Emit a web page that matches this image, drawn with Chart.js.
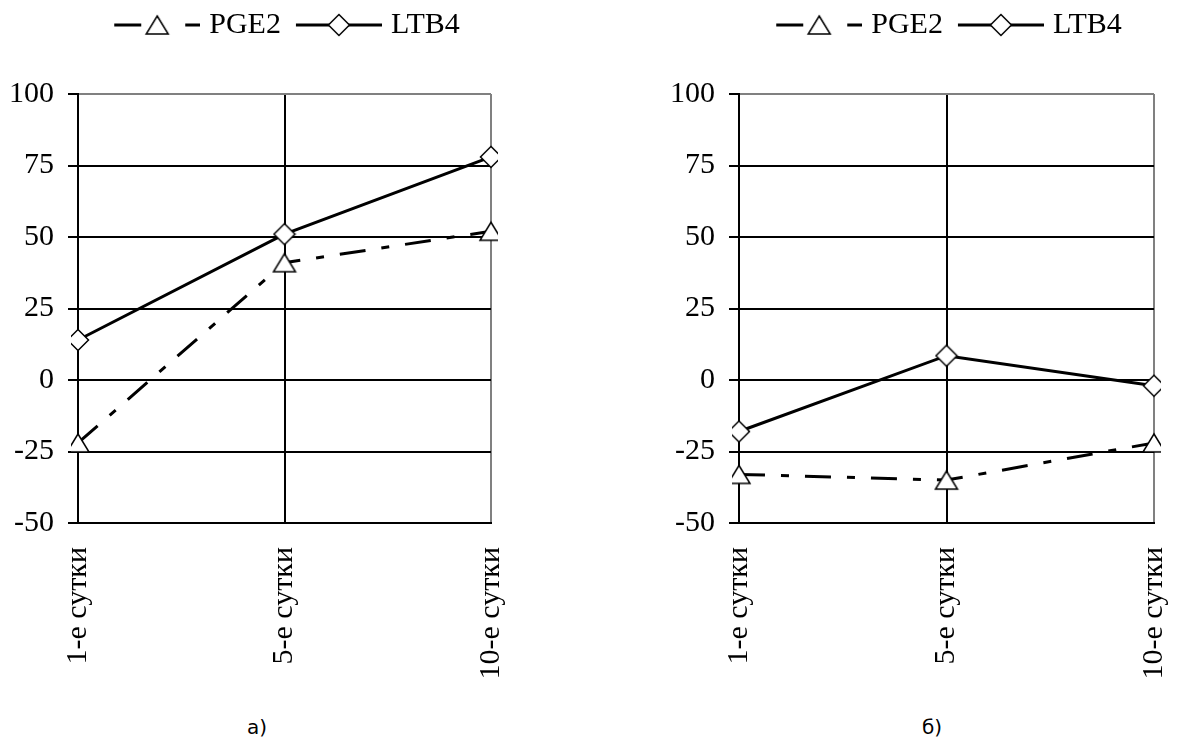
<!DOCTYPE html>
<html>
<head>
<meta charset="utf-8">
<script src="https://cdn.jsdelivr.net/npm/chart.js@4/dist/chart.umd.min.js"></script>
<style>
  body { margin: 0; width: 1178px; height: 740px; background: #fff; overflow: hidden; position: relative; }
  .box { position: absolute; top: 0; height: 700px; }
  .cap { position: absolute; top: 715px; font: 20px "DejaVu Sans", sans-serif; color: #000; }
</style>
</head>
<body>
<div class="box" style="left:0;width:589px"><canvas id="chartA"></canvas></div>
<!-- wider than the window on purpose: the last rotated label reserves space on the right -->
<div class="box" style="left:589px;width:625px"><canvas id="chartB"></canvas></div>
<div class="cap" style="left:247px">а)</div>
<div class="cap" style="left:922px">б)</div>
<script>
// categories and series
const days = ['1-е сутки', '5-е сутки', '10-е сутки'];
const seriesNames = ['PGE2', 'LTB4'];
// chart a)
const pge2A = [-22, 41, 52];
const ltb4A = [14, 51, 78];
// chart b)
const pge2B = [-33, -35, -22];
const ltb4B = [-18, 8.5, -2];
// value axis
const yMin = -50;
const yMax = 100;
const yStep = 25;

const FONT = 'Liberation Serif';
const DASH_DOT = [26, 16, 8, 16];

// markers drawn like Excel: centred on their bounding box
function triangleMarker() {
    const c = document.createElement('canvas');
    c.width = 26; c.height = 22;
    const g = c.getContext('2d');
    g.beginPath();
    g.moveTo(13, 2); g.lineTo(24, 20); g.lineTo(2, 20); g.closePath();
    g.fillStyle = '#fff'; g.fill();
    g.lineWidth = 1.5; g.strokeStyle = '#000'; g.stroke();
    return c;
}
function diamondMarker() {
    const c = document.createElement('canvas');
    c.width = 24; c.height = 24;
    const g = c.getContext('2d');
    g.beginPath();
    g.moveTo(12, 1.5); g.lineTo(22.5, 12); g.lineTo(12, 22.5); g.lineTo(1.5, 12); g.closePath();
    g.fillStyle = '#fff'; g.fill();
    g.lineWidth = 1.5; g.strokeStyle = '#000'; g.stroke();
    return c;
}
const tri = triangleMarker();
const dia = diamondMarker();

// legend sample: line + marker, shifted right inside a wider image
function legendIcon(marker, dashed) {
    const c = document.createElement('canvas');
    c.width = 97; c.height = 30;
    const g = c.getContext('2d');
    g.lineWidth = 3; g.strokeStyle = '#000';
    g.beginPath();
    if (dashed) {
        g.moveTo(11, 15); g.lineTo(38, 15);
        g.moveTo(82, 15); g.lineTo(97, 15);
    } else {
        g.moveTo(11, 15); g.lineTo(97, 15);
    }
    g.stroke();
    g.drawImage(marker, 54 - marker.width / 2, 15 - marker.height / 2);
    return c;
}
const icons = [legendIcon(tri, true), legendIcon(dia, false)];

function gridColor(isEdge) {
    return isEdge ? '#808080' : '#000';
}

Chart.defaults.font.family = FONT;

function makeChart(id, pge2, ltb4, axisWidth, padRight) {
    return new Chart(document.getElementById(id), {
        type: 'line',
        data: {
            labels: days,
            datasets: [{
                label: seriesNames[0],
                data: pge2,
                borderColor: '#000',
                borderWidth: 3,
                borderDash: DASH_DOT,
                pointStyle: tri,
                tension: 0
            }, {
                label: seriesNames[1],
                data: ltb4,
                borderColor: '#000',
                borderWidth: 3,
                pointStyle: dia,
                tension: 0
            }]
        },
        options: {
            responsive: true,
            maintainAspectRatio: false,
            animation: false,
            layout: { padding: { top: 0, right: padRight, left: 0, bottom: 0 } },
            plugins: {
                tooltip: { enabled: false },
                legend: {
                    position: 'top',
                    fullSize: false,   // centre it over the plot area
                    weight: 3000,
                    labels: {
                        usePointStyle: true,
                        pointStyleWidth: 85,
                        padding: 10,
                        color: '#000',
                        font: { family: FONT, size: 30 },
                        generateLabels: chart => chart.data.datasets.map((d, i) => ({
                            text: d.label,
                            pointStyle: icons[i],
                            datasetIndex: i,
                            lineWidth: 0,
                            fontColor: '#000'
                        }))
                    }
                },
                // empty spacer under the legend
                subtitle: {
                    display: true,
                    text: '',
                    font: { size: 10 },
                    padding: { top: 0, bottom: 32 }
                }
            },
            scales: {
                x: {
                    grid: {
                        color: c => gridColor(c.index === days.length - 1),
                        lineWidth: 2,
                        drawTicks: false
                    },
                    border: { color: '#000', width: 2 },
                    ticks: {
                        minRotation: 90,
                        maxRotation: 90,
                        padding: 24,
                        color: '#000',
                        font: { family: FONT, size: 30 }
                    },
                    afterFit: s => { s.height = 177; }
                },
                y: {
                    min: yMin,
                    max: yMax,
                    grid: {
                        color: c => gridColor(c.tick && c.tick.value === yMax),
                        lineWidth: 2,
                        tickLength: 10,
                        tickColor: '#000'
                    },
                    border: { color: '#000', width: 2 },
                    ticks: {
                        stepSize: yStep,
                        padding: 14,
                        color: '#000',
                        font: { family: FONT, size: 30 }
                    },
                    afterFit: s => { s.width = axisWidth; }
                }
            }
        }
    });
}

makeChart('chartA', pge2A, ltb4A, 78, 98);
makeChart('chartB', pge2B, ltb4B, 150, 25);
</script>
</body>
</html>
